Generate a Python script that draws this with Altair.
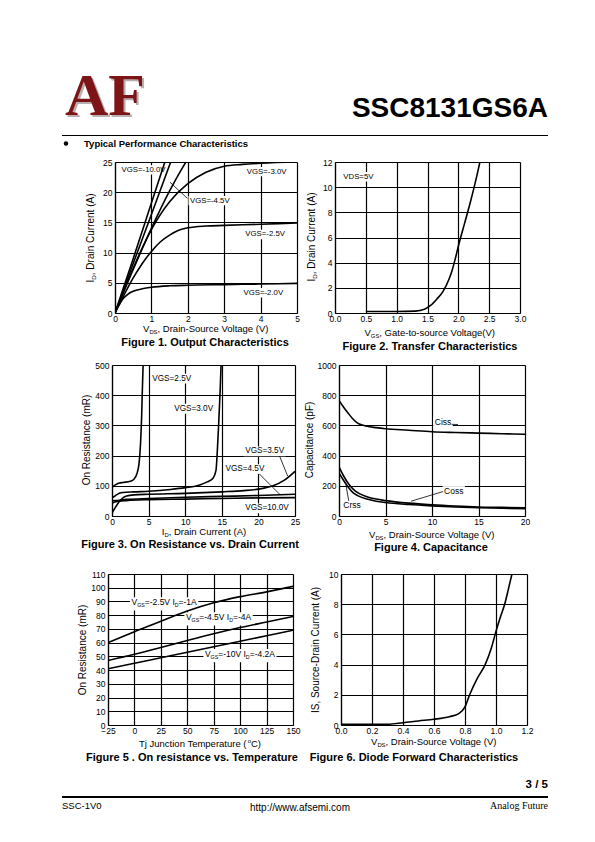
import altair as alt
import pandas as pd

FONT = "Liberation Sans"
SERIF = "Liberation Serif"

# ---------------- data ----------------
# Figure 1: Output characteristics, VDS (V) -> ID (A)
f1_vgs10_vds = [0, 0.5, 1.0, 1.37]
f1_vgs10_id = [0, 9.0, 18.2, 25.0]
f1_vgs6_vds = [0, 0.5, 1.0, 1.53]
f1_vgs6_id = [0, 8.2, 16.3, 25.0]
f1_vgs45_vds = [0, 0.5, 1.0, 1.5, 1.8, 1.95]
f1_vgs45_id = [0, 7.2, 14.0, 20.2, 23.5, 25.0]
f1_vgs3_vds = [0, 0.25, 0.5, 0.75, 1.0, 1.5, 2.0, 2.5, 3.0, 3.5, 4.0, 5.0]
f1_vgs3_id = [0, 3.8, 7.4, 10.8, 13.8, 18.4, 21.4, 23.3, 24.3, 24.6, 24.8, 25.0]
f1_vgs25_vds = [0, 0.25, 0.5, 0.75, 1.0, 1.25, 1.5, 1.75, 2.0, 2.5, 3.0, 4.0, 5.0]
f1_vgs25_id = [0, 3.0, 5.8, 8.2, 10.2, 11.8, 12.9, 13.7, 14.1, 14.4, 14.5, 14.7, 14.9]
f1_vgs2_vds = [0, 0.1, 0.2, 0.35, 0.5, 0.75, 1.0, 1.5, 2.0, 3.0, 4.0, 5.0]
f1_vgs2_id = [0, 1.2, 2.2, 3.1, 3.6, 4.0, 4.25, 4.5, 4.6, 4.7, 4.8, 4.9]

# Figure 2: Transfer characteristics, VGS (V) -> ID (A)
f2_vgs = [0.5, 1.0, 1.3, 1.45, 1.55, 1.65, 1.75, 1.85, 1.9, 1.95, 2.0, 2.1, 2.2, 2.3, 2.35]
f2_id = [0.12, 0.12, 0.15, 0.3, 0.6, 1.1, 1.7, 2.7, 3.4, 4.3, 5.3, 7.1, 8.9, 10.9, 12.0]

# Figure 3: On resistance vs drain current, ID (A) -> R (mOhm)
f3_vgs25_id = [0, 0.5, 1.0, 1.5, 2.5, 3.0, 3.4, 3.7, 3.9, 4.05, 4.15, 4.25]
f3_vgs25_r = [95, 104, 109, 111, 115, 122, 140, 175, 240, 330, 420, 500]
f3_vgs3_id = [0, 0.5, 1, 1.5, 3, 5, 8, 10, 12, 13, 13.8, 14.2, 14.4, 14.6, 14.8, 14.9]
f3_vgs3_r = [60, 68, 75, 78, 80, 82, 88, 94, 103, 113, 125, 150, 220, 320, 430, 500]
f3_vgs35_id = [0, 0.5, 1, 1.5, 2, 3, 5, 10, 15, 18, 20, 22, 23.5, 25]
f3_vgs35_r = [10, 30, 48, 60, 66, 70, 72, 75, 80, 84, 89, 100, 118, 148]
f3_vgs45_id = [0, 1, 2, 5, 10, 15, 20, 25]
f3_vgs45_r = [50, 52, 55, 58, 62, 65, 68, 72]
f3_vgs10_id = [0, 0.5, 1, 2, 5, 10, 15, 20, 25]
f3_vgs10_r = [42, 47, 49, 51, 54, 56, 58, 60, 61]

# Figure 4: Capacitance, VDS (V) -> C (pF)
f4_ciss_vds = [0, 0.5, 1, 1.5, 2, 2.5, 3, 4, 5, 7.5, 10, 12.5, 15, 17.5, 20]
f4_ciss_c = [765, 720, 680, 642, 615, 602, 594, 585, 578, 568, 558, 553, 549, 545, 541]
f4_coss_vds = [0, 0.5, 1, 1.5, 2, 3, 4, 5, 7.5, 10, 12.5, 15, 17.5, 20]
f4_coss_c = [325, 265, 215, 180, 155, 128, 112, 102, 85, 74, 66, 60, 57, 54]
f4_crss_vds = [0, 0.5, 1, 1.5, 2, 3, 4, 5, 7.5, 10, 12.5, 15, 17.5, 20]
f4_crss_c = [285, 235, 190, 155, 135, 112, 98, 89, 76, 67, 60, 55, 51, 48]

# Figure 5: On resistance vs temperature, Tj (C) -> R (mOhm)
f5_tj = [-25, 0, 25, 50, 75, 100, 125, 150]
f5_r_25v = [60, 68, 75.5, 83, 89, 93.5, 97, 101]
f5_r_45v = [47, 51.5, 56.5, 61.5, 66.5, 71, 75, 79]
f5_r_10v = [41, 45, 49, 53, 57, 61, 65, 69]

# Figure 6: Diode forward characteristics, VSD (V) -> IS (A)
f6_vsd = [0, 0.3, 0.4, 0.5, 0.6, 0.7, 0.76, 0.8, 0.83, 0.88, 0.93, 0.97, 1.0, 1.03, 1.056, 1.08, 1.103]
f6_is = [0.05, 0.05, 0.15, 0.27, 0.38, 0.55, 0.75, 1.2, 2.0, 3.1, 4.0, 5.1, 6.2, 7.2, 8.0, 9.0, 10.0]

# ---------------- helpers ----------------
ONE = pd.DataFrame({"k": [0]})

AW = {" ": 278, "!": 278, "(": 333, ")": 333, ",": 278, "-": 333, ".": 278, "/": 278,
      ":": 278, "=": 584, "A": 667, "B": 667, "C": 722, "D": 722, "E": 667, "F": 611,
      "G": 778, "H": 722, "I": 278, "J": 500, "K": 667, "L": 556, "M": 833, "N": 722,
      "O": 778, "P": 667, "R": 722, "S": 667, "T": 611, "U": 722, "V": 667, "W": 944,
      "a": 556, "b": 556, "c": 500, "d": 556, "e": 556, "f": 278, "g": 556, "h": 556,
      "i": 222, "j": 222, "k": 500, "l": 222, "m": 833, "n": 556, "o": 556, "p": 556,
      "q": 556, "r": 333, "s": 500, "t": 278, "u": 556, "v": 500, "w": 722, "x": 500,
      "y": 500, "z": 500}
SUB = 0.62


def tw(s, size):
    return sum(AW.get(c, 556) for c in s) * size / 1000.0


def rich_width(pieces, size):
    return sum(tw(t, size * SUB if k else size) for t, k in pieces)


def curves_df(curves):
    rows = []
    for name, xs, ys in curves:
        for i, (x, y) in enumerate(zip(xs, ys)):
            rows.append({"s": name, "i": i, "x": x, "y": y})
    return pd.DataFrame(rows)


def ptext(text, x, y, size, align="left", baseline="middle", font=FONT, weight="normal",
          color="black", angle=0):
    return alt.Chart(ONE).mark_text(text=text, fontSize=size, font=font, align=align,
                                    baseline=baseline, fontWeight=weight, color=color,
                                    angle=angle).encode(x=alt.value(x), y=alt.value(y))


def rich(pieces, size, x=None, y=None, angle=0, center=True, xenc=None, yenc=None):
    """pieces: (text, kind) with kind 0 normal, 1 subscript, 2 superscript"""
    sub = size * SUB
    widths = [tw(t, sub if k else size) for t, k in pieces]
    off = -sum(widths) / 2 if center else 0
    layers = []
    for (t, k), w in zip(pieces, widths):
        fs = sub if k else size
        dy = 0 if k == 0 else (0.32 * size if k == 1 else -0.36 * size)
        if xenc is not None:
            src = alt.Chart(pd.DataFrame({"x": [x], "y": [y]}))
            enc = dict(x=xenc("x:Q"), y=yenc("y:Q"))
        else:
            src = alt.Chart(ONE)
            enc = dict(x=alt.value(x), y=alt.value(y))
        layers.append(src.mark_text(text=t, align="left", baseline="middle", font=FONT,
                                    fontSize=fs, angle=angle, dx=off, dy=dy,
                                    color="black").encode(**enc))
        off += w
    return layers


def panel(curves, xdom, ydom, xticks, yticks, xfmt, yfmt, geo, ytitle, xtitle, caption,
          tpos, labels=(), pointers=(), rich_labels=(), label_size=8.0):
    W, H, L, R, T, B = geo
    (ytx, yty), (xtx, xty), (cpx, cpy) = tpos
    df = curves_df(curves)
    xsc = alt.Scale(domain=xdom, nice=False, zero=False)
    ysc = alt.Scale(domain=ydom, nice=False, zero=False)
    common = dict(grid=True, ticks=False, title=None, labelFont=FONT, labelFontSize=8.5,
                  labelColor="black", domainColor="black", domainWidth=1.2,
                  gridColor="black", gridOpacity=1, gridWidth=1.2, labelOverlap=False,
                  labelFlush=False)
    xaxis = alt.Axis(values=xticks, format=xfmt, labelPadding=1, **common)
    yaxis = alt.Axis(values=yticks, format=yfmt, labelPadding=3, **common)

    def X(f):
        return alt.X(f, scale=xsc, axis=xaxis)

    def Y(f):
        return alt.Y(f, scale=ysc, axis=yaxis)

    layers = []
    # white boxes behind the in-plot labels (they hide the grid, as in the reference)
    kx = (xdom[1] - xdom[0]) / W
    ky = (ydom[1] - ydom[0]) / H
    boxes = []
    for t, lx, ly in labels:
        w = tw(t, label_size)
        boxes.append({"x": lx - 1.5 * kx, "x2": lx + (w + 1.5) * kx,
                      "y": ly - 0.6 * label_size * ky, "y2": ly + 0.6 * label_size * ky})
    for pieces, lx, ly in rich_labels:
        w = rich_width(pieces, label_size)
        boxes.append({"x": lx - 1.5 * kx, "x2": lx + (w + 1.5) * kx,
                      "y": ly - 0.95 * label_size * ky, "y2": ly + 0.6 * label_size * ky})
    if boxes:
        layers.append(alt.Chart(pd.DataFrame(boxes)).mark_rect(color="white").encode(
            x=X("x:Q"), x2="x2:Q", y=Y("y:Q"), y2="y2:Q"))
    layers.append(alt.Chart(df).mark_line(color="black", strokeWidth=1.6,
                                          interpolate="monotone", clip=True).encode(
        x=X("x:Q"), y=Y("y:Q"), detail="s:N", order="i:Q"))
    if labels:
        ldf = pd.DataFrame(list(labels), columns=["t", "x", "y"])
        layers.append(alt.Chart(ldf).mark_text(align="left", baseline="middle", font=FONT,
                                               fontSize=label_size, color="black").encode(
            x=X("x:Q"), y=Y("y:Q"), text="t:N"))
    if pointers:
        pdf = pd.DataFrame(list(pointers), columns=["x", "y", "x2", "y2"])
        layers.append(alt.Chart(pdf).mark_rule(color="black", strokeWidth=0.8).encode(
            x=X("x:Q"), y=Y("y:Q"), x2="x2:Q", y2="y2:Q"))
    for pieces, lx, ly in rich_labels:
        layers += rich(pieces, label_size, x=lx, y=ly, center=False, xenc=X, yenc=Y)
    layers += rich(ytitle, 10, x=ytx, y=yty, angle=270)
    layers += rich(xtitle, 9.5, x=xtx, y=xty)
    layers.append(ptext(caption, cpx, cpy, 11.0, align="center", weight="bold"))
    # invisible frame fixing the panel's outer extent
    layers.append(alt.Chart(ONE).mark_rule(strokeOpacity=0, color="white").encode(
        x=alt.value(-L), x2=alt.value(W + R), y=alt.value(-T), y2=alt.value(H + B)))
    return alt.layer(*layers).properties(width=W, height=H)


def spacer():
    return alt.Chart(ONE).mark_rule(strokeOpacity=0, color="white").encode(
        x=alt.value(0), x2=alt.value(1), y=alt.value(0)).properties(width=1, height=1)


ID_T = [("I", 0), ("D", 1), (", Drain Current (A)", 0)]
VDS_T = [("V", 0), ("DS", 1), (", Drain-Source Voltage (V)", 0)]

p1 = panel(
    [("-10.0", f1_vgs10_vds, f1_vgs10_id), ("-6.0", f1_vgs6_vds, f1_vgs6_id),
     ("-4.5", f1_vgs45_vds, f1_vgs45_id), ("-3.0", f1_vgs3_vds, f1_vgs3_id),
     ("-2.5", f1_vgs25_vds, f1_vgs25_id), ("-2.0", f1_vgs2_vds, f1_vgs2_id)],
    [0, 5], [0, 25], [0, 1, 2, 3, 4, 5], [0, 5, 10, 15, 20, 25], "d", "d",
    (182, 151, 106, 5, 12, 40), ID_T, VDS_T, "Figure 1. Output Characteristics",
    ((-24, 76), (91, 167), (90, 181)),
    labels=[("VGS=-10.0V", 0.18, 23.7), ("VGS=-3.0V", 3.62, 23.4), ("VGS=-4.5V", 2.06, 18.6),
            ("VGS=-2.5V", 3.58, 13.0), ("VGS=-2.0V", 3.53, 3.35)],
    pointers=[(1.51, 21.65, 1.99, 18.97)], label_size=7.8)

p2 = panel(
    [("t", f2_vgs, f2_id)],
    [0, 3], [0, 12], [0, 0.5, 1.0, 1.5, 2.0, 2.5, 3.0], [0, 2, 4, 6, 8, 10, 12], ".1f", "d",
    (185, 151, 33, 10, 12, 40), ID_T,
    [("V", 0), ("GS", 1), (", Gate-to-source Voltage(V)", 0)],
    "Figure 2. Transfer Characteristics",
    ((-23, 75), (95, 171), (95, 185)),
    labels=[("VDS=5V", 0.135, 10.83)], label_size=7.8)

p3 = panel(
    [("2.5", f3_vgs25_id, f3_vgs25_r), ("3.0", f3_vgs3_id, f3_vgs3_r),
     ("3.5", f3_vgs35_id, f3_vgs35_r), ("4.5", f3_vgs45_id, f3_vgs45_r),
     ("10", f3_vgs10_id, f3_vgs10_r)],
    [0, 25], [0, 500], [0, 5, 10, 15, 20, 25], [0, 100, 200, 300, 400, 500], "d", "d",
    (183, 151, 103, 6, 12, 46), [("On Resistance (mR)", 0)],
    [("I", 0), ("D", 1), (", Drain Current (A)", 0)],
    "Figure 3. On Resistance vs. Drain Current",
    ((-25, 75), (92, 167), (78, 180)),
    labels=[("VGS=2.5V", 5.5, 455), ("VGS=3.0V", 8.5, 355), ("VGS=3.5V", 18.2, 214),
            ("VGS=4.5V", 15.5, 155), ("VGS=10.0V", 18.2, 25)],
    pointers=[(22.9, 198, 24.0, 132), (20.1, 140, 22.9, 72)], label_size=8.2)

p4 = panel(
    [("Ciss", f4_ciss_vds, f4_ciss_c), ("Coss", f4_coss_vds, f4_coss_c),
     ("Crss", f4_crss_vds, f4_crss_c)],
    [0, 20], [0, 1000], [0, 5, 10, 15, 20], [0, 200, 400, 600, 800, 1000], "d", "d",
    (186, 151, 38, 10, 12, 46), [("Capacitance (pF)", 0)], VDS_T,
    "Figure 4. Capacitance",
    ((-29, 75), (93, 170), (92, 183)),
    labels=[("Ciss", 10.3, 623), ("Coss", 11.3, 164), ("Crss", 0.46, 70)],
    pointers=[(11.2, 162, 7.75, 98), (1.05, 100, 0.75, 205), (12.1, 607, 12.8, 606)],
    label_size=8.5)

p5 = panel(
    [("a", f5_tj, f5_r_25v), ("b", f5_tj, f5_r_45v), ("c", f5_tj, f5_r_10v)],
    [-25, 150], [0, 110], [-25, 0, 25, 50, 75, 100, 125, 150],
    [0, 10, 20, 30, 40, 50, 60, 70, 80, 90, 100, 110], "d", "d",
    (185, 151, 99, 9, 12, 45), [("On Resistance (mR)", 0)],
    [("Tj Junction Temperature (", 0), ("o", 2), ("C)", 0)],
    "Figure 5 . On resistance vs. Temperature",
    ((-25, 76), (92, 170), (84, 184)),
    rich_labels=[
        ([("V", 0), ("GS", 1), ("=-2.5V I", 0), ("D", 1), ("=-1A", 0)], -2.8, 89.3),
        ([("V", 0), ("GS", 1), ("=-4.5V I", 0), ("D", 1), ("=-4A", 0)], 48.7, 78.4),
        ([("V", 0), ("GS", 1), ("=-10V I", 0), ("D", 1), ("=-4.2A", 0)], 66.7, 51.6)],
    label_size=8.5)

p6 = panel(
    [("d", f6_vsd, f6_is)],
    [0, 1.2], [0, 10], [0, 0.2, 0.4, 0.6, 0.8, 1.0, 1.2], [0, 2, 4, 6, 8, 10], ".1f", "d",
    (186, 151, 39, 10, 12, 45), [("IS, Source-Drain Current (A)", 0)], VDS_T,
    "Figure 6. Diode Forward Characteristics",
    ((-25, 76), (93, 168), (73, 184)))

# ---------------- header / footer ----------------
header = alt.layer(
    ptext("AF", 59, 109, 60, baseline="alphabetic", font=SERIF, weight="bold", color="#b8b0b0"),
    ptext("AF", 57, 107, 60, baseline="alphabetic", font=SERIF, weight="bold", color="#7d1416"),
    ptext("SSC8131GS6A", 540, 109, 28, align="right", baseline="alphabetic", weight="bold"),
    alt.Chart(ONE).mark_rule(color="black", strokeWidth=1).encode(
        x=alt.value(54), x2=alt.value(540), y=alt.value(127.5)),
    alt.Chart(ONE).mark_circle(size=20, color="black", opacity=1).encode(
        x=alt.value(58), y=alt.value(135.5)),
    ptext("Typical Performance Characteristics", 76, 135.5, 9.5, weight="bold"),
).properties(width=579, height=142)

footer = alt.layer(
    ptext("3 / 5", 540, 15, 11.5, align="right", weight="bold"),
    alt.Chart(ONE).mark_rule(color="black", strokeWidth=1.8).encode(
        x=alt.value(54), x2=alt.value(540), y=alt.value(27)),
    ptext("SSC-1V0", 54, 36, 9.5),
    ptext("http://www.afsemi.com", 292, 38, 10, align="center"),
    ptext("Analog Future", 540, 36, 10, align="right", font=SERIF),
).properties(width=579, height=50)

chart = alt.vconcat(
    header,
    alt.hconcat(spacer(), p1, p2, spacing=0),
    alt.hconcat(spacer(), p3, p4, spacing=0),
    alt.hconcat(spacer(), p5, p6, spacing=0),
    footer,
    spacing=0, padding=0,
).configure(font=FONT).configure_view(stroke=None)

chart.save("out.html", embed_options={"renderer": "svg", "actions": False})
